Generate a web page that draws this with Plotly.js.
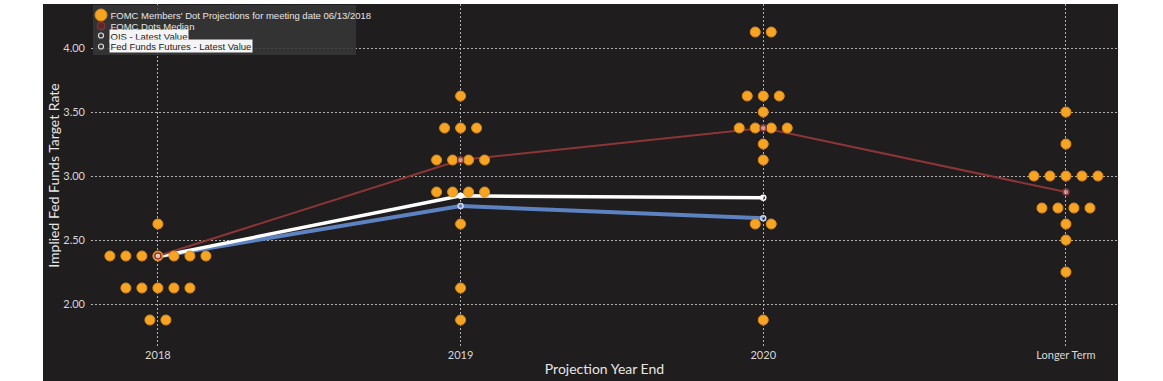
<!DOCTYPE html>
<html>
<head>
<meta charset="utf-8">
<script src="https://cdn.plot.ly/plotly-3.0.1.min.js"></script>
<style>html,body{margin:0;padding:0;background:#fff;}#chart{width:1163px;height:381px;}</style>
</head>
<body>
<div id="chart"></div>
<script>
// ---- Data ----
const categories = ['2018', '2019', '2020', 'Longer Term'];

// FOMC participants' dot projections: rate level and number of dots at that level
const rates2018 = [2.625, 2.375, 2.125, 1.875];
const counts2018 = [1, 7, 5, 2];
const rates2019 = [3.625, 3.375, 3.125, 2.875, 2.625, 2.125, 1.875];
const counts2019 = [1, 3, 4, 4, 1, 1, 1];
const rates2020 = [4.125, 3.625, 3.5, 3.375, 3.25, 3.125, 2.625, 1.875];
const counts2020 = [2, 3, 1, 4, 1, 1, 2, 1];
const ratesLonger = [3.5, 3.25, 3.0, 2.75, 2.625, 2.5, 2.25];
const countsLonger = [1, 1, 5, 4, 1, 1, 1];

const medianValues = [2.375, 3.125, 3.375, 2.875];
const oisValues = [2.37, 2.765, 2.67];
const fffValues = [2.37, 2.845, 2.83];

const yTicks = [2.0, 2.5, 3.0, 3.5, 4.0];

const legendLabels = [
  "FOMC Members' Dot Projections for meeting date 06/13/2018",
  'FOMC Dots Median',
  'OIS - Latest Value',
  'Fed Funds Futures - Latest Value'
];

// ---- Layout helpers ----
const W = 1163, H = 381;
const M = {l: 91, r: 45, t: 4, b: 34};
const plotW = W - M.l - M.r, plotH = H - M.t - M.b;
const px = x => (x - M.l) / plotW;
const py = y => (H - M.b - y) / plotH;
const DOT_STEP = 0.0529; // horizontal spread of stacked dots, in category units

function spreadDots(catIndex, rates, counts) {
  const xs = [], ys = [];
  rates.forEach((r, i) => {
    const n = counts[i];
    for (let k = 0; k < n; k++) {
      xs.push(catIndex + (k - (n - 1) / 2) * DOT_STEP);
      ys.push(r);
    }
  });
  return {xs, ys};
}

const dotSets = [
  spreadDots(0, rates2018, counts2018),
  spreadDots(1, rates2019, counts2019),
  spreadDots(2, rates2020, counts2020),
  spreadDots(3, ratesLonger, countsLonger)
];
const dotX = [].concat(...dotSets.map(d => d.xs));
const dotY = [].concat(...dotSets.map(d => d.ys));

const catIdx = categories.map((c, i) => i);

const ORANGE = '#f5a424';
const MEDIAN = '#8c3536';
const BLUE = '#5c82c2';
const BG = '#1f1d1e';

const traces = [
  {x: catIdx.slice(0, oisValues.length), y: oisValues, mode: 'lines', line: {color: BLUE, width: 4}, hoverinfo: 'skip'},
  {x: catIdx.slice(0, fffValues.length), y: fffValues, mode: 'lines', line: {color: '#ffffff', width: 3.5}, hoverinfo: 'skip'},
  {x: catIdx, y: medianValues, mode: 'lines', line: {color: MEDIAN, width: 2}, hoverinfo: 'skip'},
  {x: dotX, y: dotY, mode: 'markers', marker: {color: ORANGE, size: 10, line: {color: '#e08a10', width: 1}}, hoverinfo: 'skip'},
  {x: catIdx.slice(0, oisValues.length), y: oisValues, mode: 'markers', marker: {color: '#c9d6ee', size: 5, symbol: 'circle-open', line: {color: '#c9d6ee', width: 1.5}}, hoverinfo: 'skip'},
  {x: catIdx.slice(0, fffValues.length), y: fffValues, mode: 'markers', marker: {color: '#ffffff', size: 5, symbol: 'circle-open', line: {color: '#ffffff', width: 1.5}}, hoverinfo: 'skip'},
  {x: catIdx, y: medianValues, mode: 'markers', marker: {color: 'rgba(230,200,190,0.7)', size: 6, line: {color: MEDIAN, width: 1.5}}, hoverinfo: 'skip'}
];

// ---- Legend (custom) ----
const legRows = [15, 26, 35.5, 46.5];
const legTextX = 109;
const legMarkX = 101;
const shapes = [
  {type: 'rect', xref: 'paper', yref: 'paper', layer: 'below',
   x0: px(43), x1: px(1118), y0: py(381), y1: py(4), fillcolor: BG, line: {width: 0}},
  {type: 'rect', xref: 'paper', yref: 'paper', layer: 'above',
   x0: px(93), x1: px(356), y0: py(55), y1: py(5), fillcolor: 'rgba(55,55,55,0.85)', line: {width: 0}}
];
function circ(cx, cy, r, fill, lineColor, lw) {
  shapes.push({type: 'circle', xref: 'paper', yref: 'paper', layer: 'above',
    x0: px(cx - r), x1: px(cx + r), y0: py(cy + r), y1: py(cy - r),
    fillcolor: fill, line: {color: lineColor, width: lw}});
}
circ(legMarkX, legRows[0], 6, ORANGE, '#e08a10', 1);
circ(legMarkX, legRows[1], 4, '#5a2a2a', MEDIAN, 1);
circ(legMarkX, legRows[2], 2.5, 'rgba(0,0,0,0)', '#dddddd', 1.2);
circ(legMarkX, legRows[3], 2.5, 'rgba(0,0,0,0)', '#dddddd', 1.2);

const annotations = legendLabels.map((t, i) => ({
  xref: 'paper', yref: 'paper', x: px(legTextX), y: py(legRows[i]),
  xanchor: 'left', yanchor: 'middle', showarrow: false, text: t,
  font: {family: 'Liberation Sans, Arial, sans-serif', size: 9.5, color: i < 2 ? '#e6e6e6' : '#222222'},
  bgcolor: i < 2 ? 'rgba(0,0,0,0)' : '#f4f4f4', borderpad: 0.5
}));

const layout = {
  width: W, height: H,
  margin: M,
  paper_bgcolor: '#ffffff',
  plot_bgcolor: BG,
  showlegend: false,
  font: {family: 'Lato, sans-serif', color: '#d8d8d8'},
  xaxis: {
    range: [-0.221, 3.172],
    tickvals: catIdx, ticktext: categories,
    showgrid: true, gridcolor: '#b0b0b0', griddash: '2px,2px', gridwidth: 1,
    zeroline: false, showline: false, ticks: '',
    tickfont: {family: 'Lato, sans-serif', size: 11, color: '#d8d8d8'},
    title: {text: 'Projection Year End', font: {family: 'Lato, sans-serif', size: 14, color: '#e6e6e6'}, standoff: 4}
  },
  yaxis: {
    range: [1.664, 4.344],
    tickvals: yTicks, ticktext: yTicks.map(v => v.toFixed(2)),
    showgrid: true, gridcolor: '#b0b0b0', griddash: '2px,2px', gridwidth: 1,
    zeroline: false, showline: false, ticks: '', ticklabelstandoff: 5,
    tickfont: {family: 'Lato, sans-serif', size: 11, color: '#d8d8d8'},
    title: {text: 'Implied Fed Funds Target Rate', font: {family: 'Lato, sans-serif', size: 14, color: '#e6e6e6'}, standoff: 0}
  },
  shapes: shapes,
  annotations: annotations
};

Plotly.newPlot('chart', traces, layout, {displayModeBar: false, staticPlot: true});
</script>
</body>
</html>
